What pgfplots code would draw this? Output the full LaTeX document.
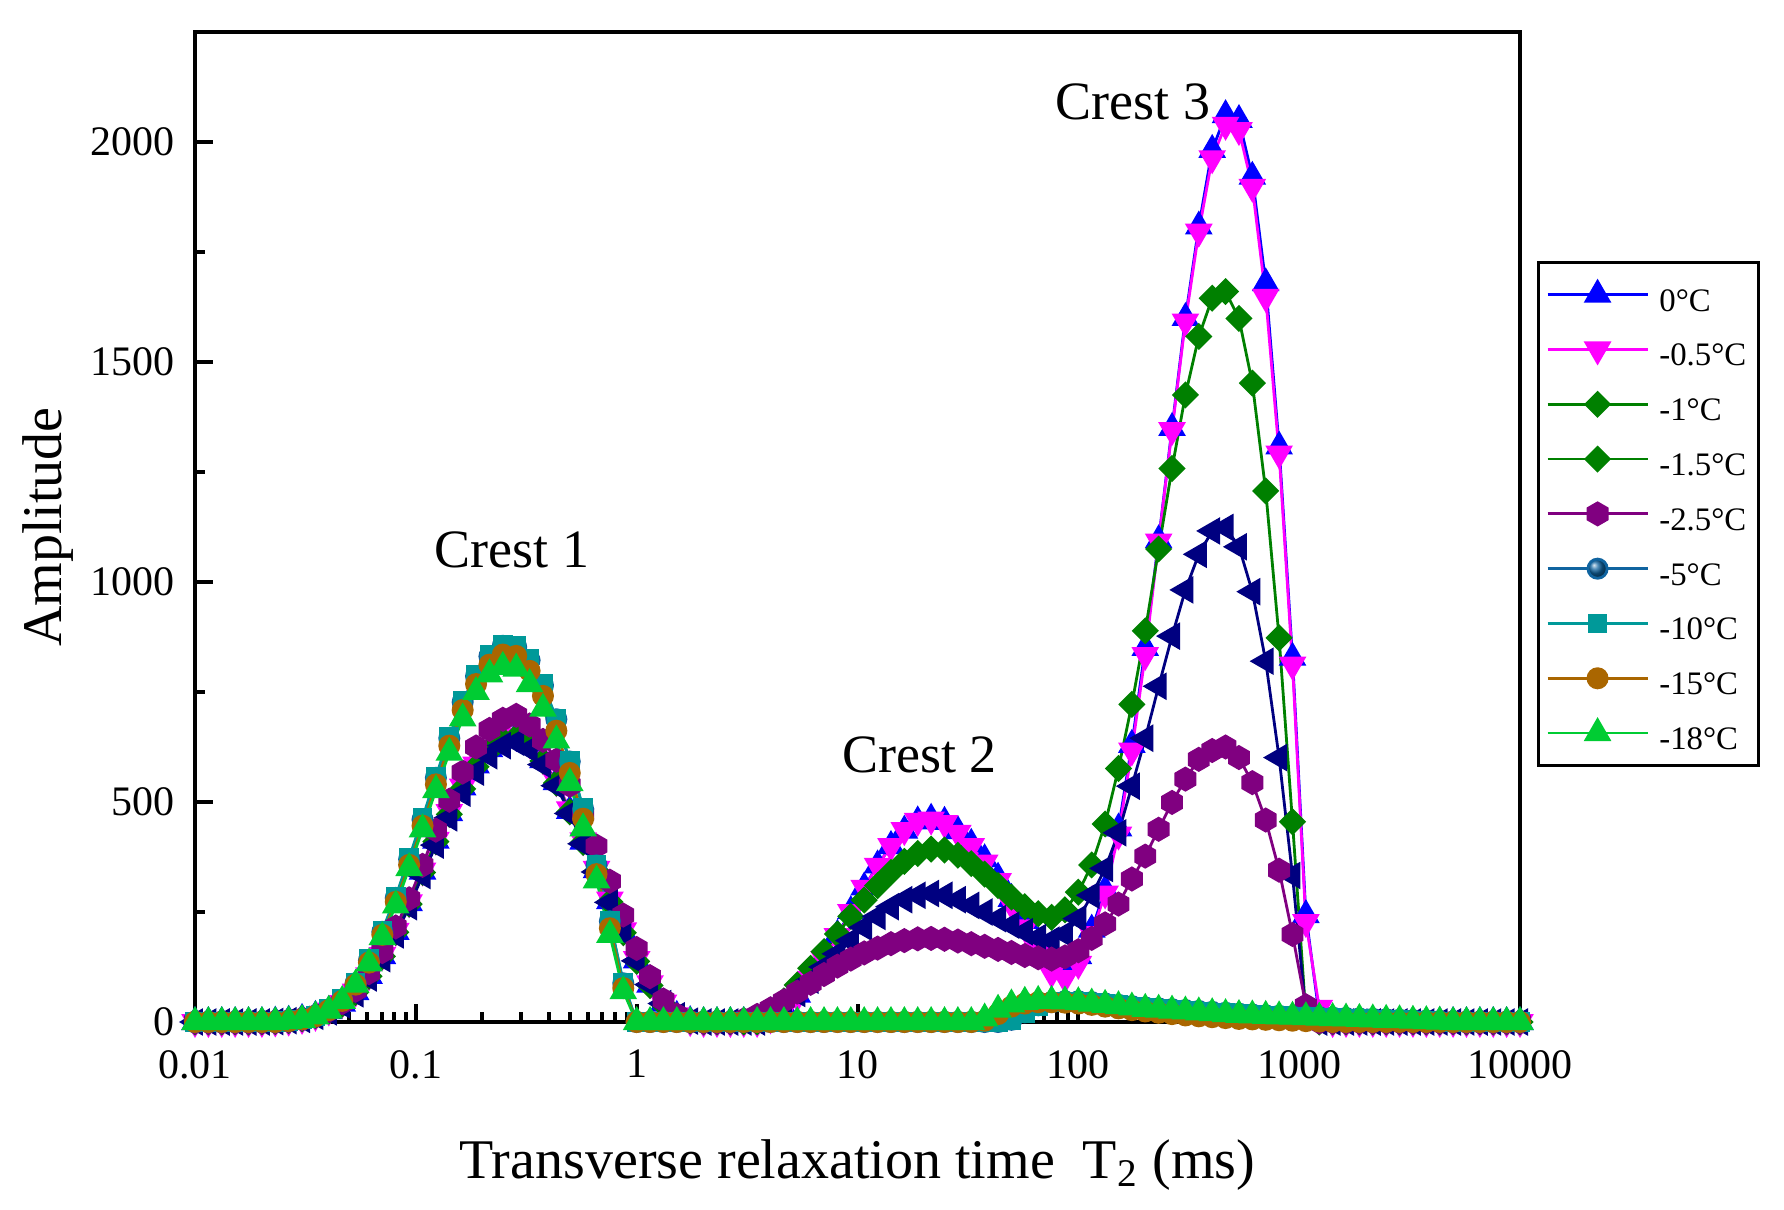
\documentclass[border=0pt]{standalone}
\usepackage{fontspec}
\setmainfont{Liberation Serif}
\usepackage{pgfplots}
\usepackage{pgfplotstable}
\pgfplotsset{compat=1.18}
\definecolor{c0}{RGB}{0,0,255}
\definecolor{c05}{RGB}{255,0,255}
\definecolor{c1}{RGB}{0,128,0}
\definecolor{c15}{RGB}{0,0,128}
\definecolor{c25}{RGB}{128,0,128}
\definecolor{c5}{RGB}{16,100,160}
\definecolor{c10}{RGB}{0,153,153}
\definecolor{c15b}{RGB}{170,102,0}
\definecolor{c18}{RGB}{0,204,51}
\pgfdeclareplotmark{hexagon*}{%
  \pgfpathmoveto{\pgfqpointpolar{90}{\pgfplotmarksize}}%
  \pgfpathlineto{\pgfqpointpolar{150}{\pgfplotmarksize}}%
  \pgfpathlineto{\pgfqpointpolar{210}{\pgfplotmarksize}}%
  \pgfpathlineto{\pgfqpointpolar{270}{\pgfplotmarksize}}%
  \pgfpathlineto{\pgfqpointpolar{330}{\pgfplotmarksize}}%
  \pgfpathlineto{\pgfqpointpolar{30}{\pgfplotmarksize}}%
  \pgfpathclose
  \pgfusepathqfillstroke
}
\pgfplotstableread{
x T0 Tm05 Tm1 Tm15 Tm25 Tm5 Tm10 Tm15b Tm18
0.01 0 0 0 0 0 0 0 0 0
0.011498 0 0 0 0 0 0 0 0 0
0.013219 0 0 0 0 0 0 0 0 0
0.015199 0 0 0 0 0 0 0 0 0
0.017475 0 0 0 0 0 0 0 0 0
0.020092 0 0 0 0 0 0 0 0 0
0.023101 1 1 1 1 1 0 0 0 0
0.026561 3 3 3 3 3 2 2 2 2
0.030539 7 7 7 6 7 6 6 6 5
0.035112 14 14 14 13 14 14 14 13 13
0.040370 25 26 25 23 26 28 29 27 26
0.046416 42 43 41 39 44 50 52 48 48
0.053367 68 69 67 64 72 88 90 85 85
0.061359 105 106 104 100 112 140 143 135 133
0.070548 150 152 149 144 160 205 208 198 193
0.081113 205 207 204 198 216 282 285 273 265
0.093260 270 272 268 262 280 370 373 357 350
0.10723 342 344 340 333 356 460 463 446 438
0.12328 412 414 410 402 436 555 558 540 527
0.14175 475 477 472 464 504 645 648 628 612
0.16298 533 535 530 520 568 727 730 709 690
0.18738 583 585 580 568 625 786 789 768 750
0.21544 620 622 617 605 665 831 834 812 790
0.24771 643 645 640 628 688 855 858 835 807
0.28480 650 651 647 636 697 852 855 832 803
0.32745 632 633 630 620 675 822 825 798 768
0.37649 595 597 593 585 640 765 768 741 712
0.43288 545 547 543 537 595 688 690 662 640
0.49770 480 483 478 474 538 592 594 566 543
0.57224 410 413 408 405 472 484 486 462 440
0.65793 345 348 343 341 400 356 358 336 322
0.75646 275 278 273 272 320 229 230 213 198
0.86975 205 208 203 203 243 88 90 77 70
1 140 143 138 139 167 0 0 0 0
1.1498 85 88 83 85 103 0 0 0 0
1.3219 42 44 40 42 50 0 0 0 0
1.5199 14 15 13 14 16 0 0 0 0
1.7475 2 2 2 2 2 0 0 0 0
2.0092 0 0 0 0 0 0 0 0 0
2.3101 0 0 0 0 0 0 0 0 0
2.6561 0 0 0 0 0 0 0 0 0
3.0539 0 0 0 0 5 0 0 0 0
3.5112 0 0 0 0 15 0 0 0 0
4.0370 10 8 18 12 30 0 0 0 0
4.6416 32 28 48 35 48 0 0 0 0
5.3367 62 58 84 65 68 0 0 0 0
6.1359 102 98 122 95 88 0 0 0 0
7.0548 148 143 160 125 108 0 0 0 0
8.1113 198 195 200 155 127 0 0 0 0
9.3260 252 250 240 185 143 0 0 0 0
10.723 306 305 277 215 157 0 0 0 0
12.328 356 355 310 240 168 0 0 0 0
14.175 400 400 340 262 178 0 0 0 0
16.298 435 436 365 278 185 0 0 0 0
18.738 456 457 383 288 189 0 0 0 0
21.544 462 460 393 292 190 0 0 0 0
24.771 455 452 391 288 188 0 0 0 0
28.480 434 430 379 278 184 0 0 0 0
32.745 405 400 360 265 178 0 0 0 0
37.649 370 362 336 250 172 0 0 3 8
43.288 328 320 310 235 165 0 0 18 28
49.770 280 268 284 220 158 5 3 35 40
57.224 230 215 262 205 151 22 20 42 46
65.793 182 163 246 192 146 38 36 45 48
75.646 142 112 238 186 143 45 44 45 48
86.975 128 100 255 200 148 47 46 44 47
100 150 132 295 235 162 47 46 42 45
114.98 210 200 357 288 190 45 44 39 42
132.19 300 292 450 349 223 42 41 35 39
151.99 440 426 576 430 268 39 38 31 36
174.75 630 617 722 536 325 36 35 27 33
200.92 850 834 889 645 377 33 32 24 30
231.01 1095 1092 1075 763 438 31 30 21 28
265.61 1350 1345 1258 877 499 29 28 18 26
305.39 1600 1592 1425 982 552 27 26 15 24
351.12 1808 1796 1558 1063 597 25 24 13 22
403.70 1982 1963 1645 1116 617 23 22 11 20
464.16 2061 2039 1660 1124 625 21 20 9 18
533.67 2050 2027 1599 1080 601 19 18 7 16
613.59 1921 1898 1452 978 544 17 16 6 15
705.48 1679 1648 1207 820 459 15 14 5 14
811.13 1308 1292 873 601 345 14 13 4 13
932.60 828 812 455 333 199 13 12 3 12
1072.3 243 227 15 20 37 12 11 2 11
1232.8 15 32 0 0 0 11 10 1 10
1417.5 0 0 0 0 0 10 9 0 9
1629.8 0 0 0 0 0 9 8 0 8
1873.8 0 0 0 0 0 8 7 0 7
2154.4 0 0 0 0 0 7 6 0 6
2477.1 0 0 0 0 0 6 5 0 5
2848.0 0 0 0 0 0 5 4 0 4
3274.5 0 0 0 0 0 4 3 0 3
3764.9 0 0 0 0 0 3 2 0 2
4328.8 0 0 0 0 0 2 1 0 1
4977.0 0 0 0 0 0 1 0 0 0
5722.4 0 0 0 0 0 0 0 0 0
6579.3 0 0 0 0 0 0 0 0 0
7564.6 0 0 0 0 0 0 0 0 0
8697.5 0 0 0 0 0 0 0 0 0
10000 0 0 0 0 0 0 0 0 0
}\data
\begin{document}
\begin{tikzpicture}
\path[use as bounding box] (-48.75pt,-46.75pt) rectangle (397.25pt,255.5pt);
\begin{axis}[
  at={(0,0)}, anchor=south west,
  scale only axis, width=331.25pt, height=247.5pt,
  xmode=log, xmin=0.01, xmax=10000, ymin=0, ymax=2250,
  clip=false,
  xtick={0.01,0.1,1,10,100,1000,10000},
  xticklabels={0.01,0.1,1,10,100,1000,10000},
  minor xtick={0.02,0.03,0.04,0.05,0.06,0.07,0.08,0.09,0.2,0.3,0.4,0.5,0.6,0.7,0.8,0.9,2,3,4,5,6,7,8,9,20,30,40,50,60,70,80,90,200,300,400,500,600,700,800,900,2000,3000,4000,5000,6000,7000,8000,9000},
  ytick={0,500,1000,1500,2000},
  minor ytick={250,750,1250,1750},
  xtick pos=bottom, ytick pos=left,
  tick align=inside,
  major tick length=4.5pt, minor tick length=2.5pt,
  every tick/.style={black, line width=1pt},
  axis line style={line width=1.2pt},
  /pgf/number format/assume math mode=true,
  /pgf/number format/1000 sep={},
  tick label style={font=\fontsize{10.5}{12}\selectfont},
  xticklabel style={yshift=-3.5pt},
  yticklabel style={xshift=-1.5pt},
  xlabel={Transverse relaxation time\ \ T\textsubscript{2} (ms)},
  ylabel={Amplitude},
  label style={font=\fontsize{14}{16}\selectfont},
  xlabel style={at={(axis description cs:0.5,0)}, anchor=base, yshift=-39pt},
  ylabel style={at={(axis description cs:-0.111,0.5)}, anchor=center},
  legend image code/.code={\draw[mark repeat=2,mark phase=2,#1] plot coordinates {(0pt,0pt) (12.5pt,0pt) (25pt,0pt)};},
  legend cell align=left,
  legend style={at={(1.0125,0.769)}, anchor=north west, draw=black, line width=0.8pt,
    fill=white, font=\fontsize{8.2}{10}\selectfont, inner xsep=2pt, inner ysep=3pt,
    row sep=3.5pt, nodes={inner sep=1pt, text height=8.2pt, text depth=0pt},
    /tikz/every odd column/.append style={column sep=1.6pt}},
]
\addplot[color=c0, line width=0.7pt, mark=triangle*, mark size=3.3pt, mark options={solid, fill=c0}] table[x=x, y=T0] {\data};
\addlegendentry{0°C}
\addplot[color=c05, line width=0.7pt, mark=triangle*, mark size=3.3pt, mark options={solid, rotate=180, fill=c05}] table[x=x, y=Tm05] {\data};
\addlegendentry{-0.5°C}
\addplot[color=c1, line width=0.7pt, mark=square*, mark size=2.05pt, mark options={solid, rotate=45, fill=c1}] table[x=x, y=Tm1] {\data};
\addlegendentry{-1°C}
\addlegendimage{color=c1, line width=0.7pt, mark=square*, mark size=2.05pt, mark options={solid, rotate=45, fill=c1}}
\addlegendentry{-1.5°C}
\addplot[forget plot, color=c15, line width=0.7pt, mark=triangle*, mark size=3.3pt, mark options={solid, rotate=90, fill=c15}] table[x=x, y=Tm15] {\data};
\addplot[color=c25, line width=0.7pt, mark=hexagon*, mark size=2.75pt, mark options={solid, fill=c25}] table[x=x, y=Tm25] {\data};
\addlegendentry{-2.5°C}
\addplot[color=c5, line width=0.7pt, mark=ball, mark size=2.4pt, mark options={solid, ball color=c5}] table[x=x, y=Tm5] {\data};
\addlegendentry{-5°C}
\addplot[color=c10, line width=0.7pt, mark=square*, mark size=2.1pt, mark options={solid, fill=c10}] table[x=x, y=Tm10] {\data};
\addlegendentry{-10°C}
\addplot[color=c15b, line width=0.7pt, mark=*, mark size=2.4pt, mark options={solid, fill=c15b}] table[x=x, y=Tm15b] {\data};
\addlegendentry{-15°C}
\addplot[color=c18, line width=0.7pt, mark=triangle*, mark size=3.3pt, mark options={solid, fill=c18}] table[x=x, y=Tm18] {\data};
\addlegendentry{-18°C}
\node[font=\fontsize{13.5}{15}\selectfont, anchor=base] at (axis cs:0.2727,1032) {Crest 1};
\node[font=\fontsize{13.5}{15}\selectfont, anchor=base] at (axis cs:19.1,568) {Crest 2};
\node[font=\fontsize{13.5}{15}\selectfont, anchor=base] at (axis cs:177,2050) {Crest 3};
\end{axis}
\end{tikzpicture}
\end{document}
